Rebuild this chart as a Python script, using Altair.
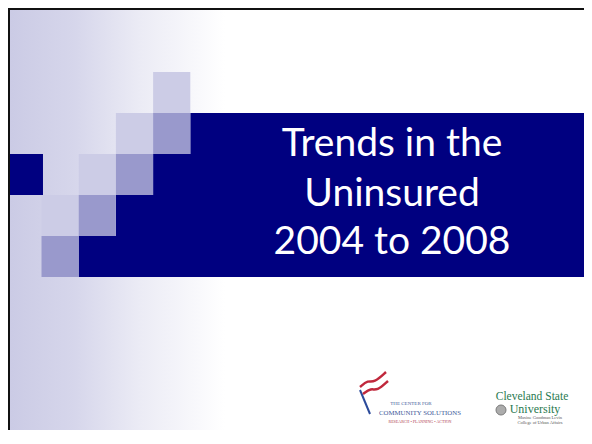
import altair as alt
import pandas as pd

# ---- slide content -------------------------------------------------------
title_lines = ["Trends in the", "Uninsured", "2004 to 2008"]

# decorative grid squares (column, row) on the slide grid
light_cols = [4, 3, 2, 1]
light_rows = [0, 1, 2, 3]
medium_cols = [4, 3, 2, 1]
medium_rows = [1, 2, 3, 4]
band_rows = [1, 2, 3, 4]
band_start_cols = [5, 4, 3, 2]
band_bottom_row = 5
navy_square_col = [0]
navy_square_row = [2]

logo1_lines = ["THE CENTER FOR", "COMMUNITY SOLUTIONS", "RESEARCH \u2022 PLANNING \u2022 ACTION"]
logo2_lines = ["Cleveland State", "University"]
logo2_small = ["Maxine Goodman Levin", "College of Urban Affairs"]

NAVY = "#000080"
LIGHT = "#CCCCE6"
MEDIUM = "#9999CC"

W, H = 576, 422  # plot size that fits the page without scrollbars

# grid geometry (slide pixel -> grid units)
def gx(px):
    return (px - 4.3) / 37.2

def gy(py):
    return (py - 72.0) / 41.0

XMIN, XMAX = gx(8), gx(8 + W)
YMIN, YMAX = gy(8), gy(8 + H)

xs = alt.Scale(domain=[XMIN, XMAX], zero=False, nice=False)
ys = alt.Scale(domain=[YMIN, YMAX], zero=False, nice=False, reverse=True)


def rect_layer(df, color, **kw):
    return alt.Chart(df).mark_rect(color=color, **kw).encode(
        x=alt.X("x0:Q", scale=xs, axis=None),
        x2="x1:Q",
        y=alt.Y("y0:Q", scale=ys, axis=None),
        y2="y1:Q",
    )


# background gradient on the left
bg_df = pd.DataFrame({"x0": [gx(10)], "x1": [gx(225)], "y0": [gy(10)], "y1": [YMAX]})
bg = alt.Chart(bg_df).mark_rect(
    color=alt.Gradient(
        gradient="linear",
        stops=[
            alt.GradientStop(color="#CBCBE5", offset=0),
            alt.GradientStop(color="#D6D6EB", offset=0.3),
            alt.GradientStop(color="#EBEBF5", offset=0.6),
            alt.GradientStop(color="#FFFFFF", offset=1),
        ],
        x1=0, x2=1, y1=0, y2=0,
    )
).encode(
    x=alt.X("x0:Q", scale=xs, axis=None), x2="x1:Q",
    y=alt.Y("y0:Q", scale=ys, axis=None), y2="y1:Q",
)

# frame (top and left edges)
frame_df = pd.DataFrame({
    "x0": [XMIN, XMIN], "x1": [XMAX, gx(10)],
    "y0": [YMIN, YMIN], "y1": [gy(10), YMAX],
})
frame = rect_layer(frame_df, "#111111")

# stepped navy band: each step runs down to the band's bottom (no seams)
band_df = pd.DataFrame({
    "x0": band_start_cols, "x1": [XMAX] * len(band_rows),
    "y0": band_rows, "y1": [band_bottom_row] * len(band_rows),
})
band = rect_layer(band_df, NAVY)

navy_sq_df = pd.DataFrame({
    "x0": [gx(10)], "x1": [c + 1 + 0.04 for c in navy_square_col],
    "y0": navy_square_row, "y1": [r + 1 for r in navy_square_row],
})
navy_sq = rect_layer(navy_sq_df, NAVY)

light_df = pd.DataFrame({
    "x0": light_cols, "x1": [c + 1 for c in light_cols],
    "y0": light_rows, "y1": [r + 1 for r in light_rows],
})
light = rect_layer(light_df, LIGHT)

medium_df = pd.DataFrame({
    "x0": medium_cols, "x1": [c + 1 for c in medium_cols],
    "y0": medium_rows, "y1": [r + 1 for r in medium_rows],
})
medium = rect_layer(medium_df, MEDIUM)

# title
title_df = pd.DataFrame({
    "text": title_lines,
    "x": [gx(392)] * 3,
    "y": [gy(156), gy(205.5), gy(254)],
})
title = alt.Chart(title_df).mark_text(
    align="center", baseline="alphabetic", font="Lato", fontSize=39,
    fontWeight=400, color="white"
).encode(
    x=alt.X("x:Q", scale=xs, axis=None),
    y=alt.Y("y:Q", scale=ys, axis=None),
    text="text:N",
)

# logo 1 : Center for Community Solutions
pole_df = pd.DataFrame({"x": [gx(360), gx(370)], "y": [gy(390), gy(414)]})
pole = alt.Chart(pole_df).mark_line(color="#2B4A9A", strokeWidth=2).encode(
    x=alt.X("x:Q", scale=xs, axis=None), y=alt.Y("y:Q", scale=ys, axis=None)
)
sw_df = pd.DataFrame({
    "g": ["a"] * 4 + ["b"] * 4,
    "o": [0, 1, 2, 3] * 2,
    "x": [gx(360), gx(368), gx(374), gx(386), gx(363), gx(371), gx(377), gx(388)],
    "y": [gy(387), gy(380), gy(383), gy(372), gy(394), gy(388), gy(391), gy(381)],
})
swoosh = alt.Chart(sw_df).mark_line(color="#C0283C", strokeWidth=2.5, interpolate="basis").encode(
    x=alt.X("x:Q", scale=xs, axis=None), y=alt.Y("y:Q", scale=ys, axis=None),
    detail="g:N", order="o:Q",
)
l1_df = pd.DataFrame({
    "text": logo1_lines,
    "x": [gx(411), gx(420), gx(420)],
    "y": [gy(405), gy(415), gy(423)],
    "fs": [5, 6.8, 4],
    "c": ["#3D5A99", "#3D5A99", "#B0404F"],
})
logo1 = alt.Chart(l1_df).mark_text(align="center", baseline="alphabetic", font="Liberation Serif").encode(
    x=alt.X("x:Q", scale=xs, axis=None), y=alt.Y("y:Q", scale=ys, axis=None),
    text="text:N", size=alt.Size("fs:Q", scale=None), color=alt.Color("c:N", scale=None),
)

# logo 2 : Cleveland State University
l2_df = pd.DataFrame({
    "text": logo2_lines,
    "x": [gx(532), gx(535)],
    "y": [gy(399.5), gy(413)],
    "fs": [11.5, 12],
})
logo2 = alt.Chart(l2_df).mark_text(align="center", baseline="alphabetic", font="Liberation Serif",
                                    color="#2A7A50").encode(
    x=alt.X("x:Q", scale=xs, axis=None), y=alt.Y("y:Q", scale=ys, axis=None),
    text="text:N", size=alt.Size("fs:Q", scale=None),
)
l2s_df = pd.DataFrame({
    "text": logo2_small,
    "x": [gx(540), gx(540)],
    "y": [gy(418.5), gy(423.5)],
})
logo2s = alt.Chart(l2s_df).mark_text(align="center", baseline="alphabetic", font="Liberation Serif",
                                     fontSize=4.5, color="#555555").encode(
    x=alt.X("x:Q", scale=xs, axis=None), y=alt.Y("y:Q", scale=ys, axis=None),
    text="text:N",
)
seal_df = pd.DataFrame({"x": [gx(501)], "y": [gy(410)]})
seal = alt.Chart(seal_df).mark_point(filled=True, shape="circle", size=100, color="#8A8A8A",
                                     stroke="#444444", strokeWidth=1).encode(
    x=alt.X("x:Q", scale=xs, axis=None), y=alt.Y("y:Q", scale=ys, axis=None),
)

chart = alt.layer(
    bg, frame, band, navy_sq, light, medium, title, pole, swoosh, logo1, logo2, logo2s, seal
).properties(
    width=W, height=H, padding=0, background="white",
    autosize=alt.AutoSizeParams(type="none"),
).configure_view(stroke=None)

chart.save("out.html", embed_options={"renderer": "svg", "actions": False})
